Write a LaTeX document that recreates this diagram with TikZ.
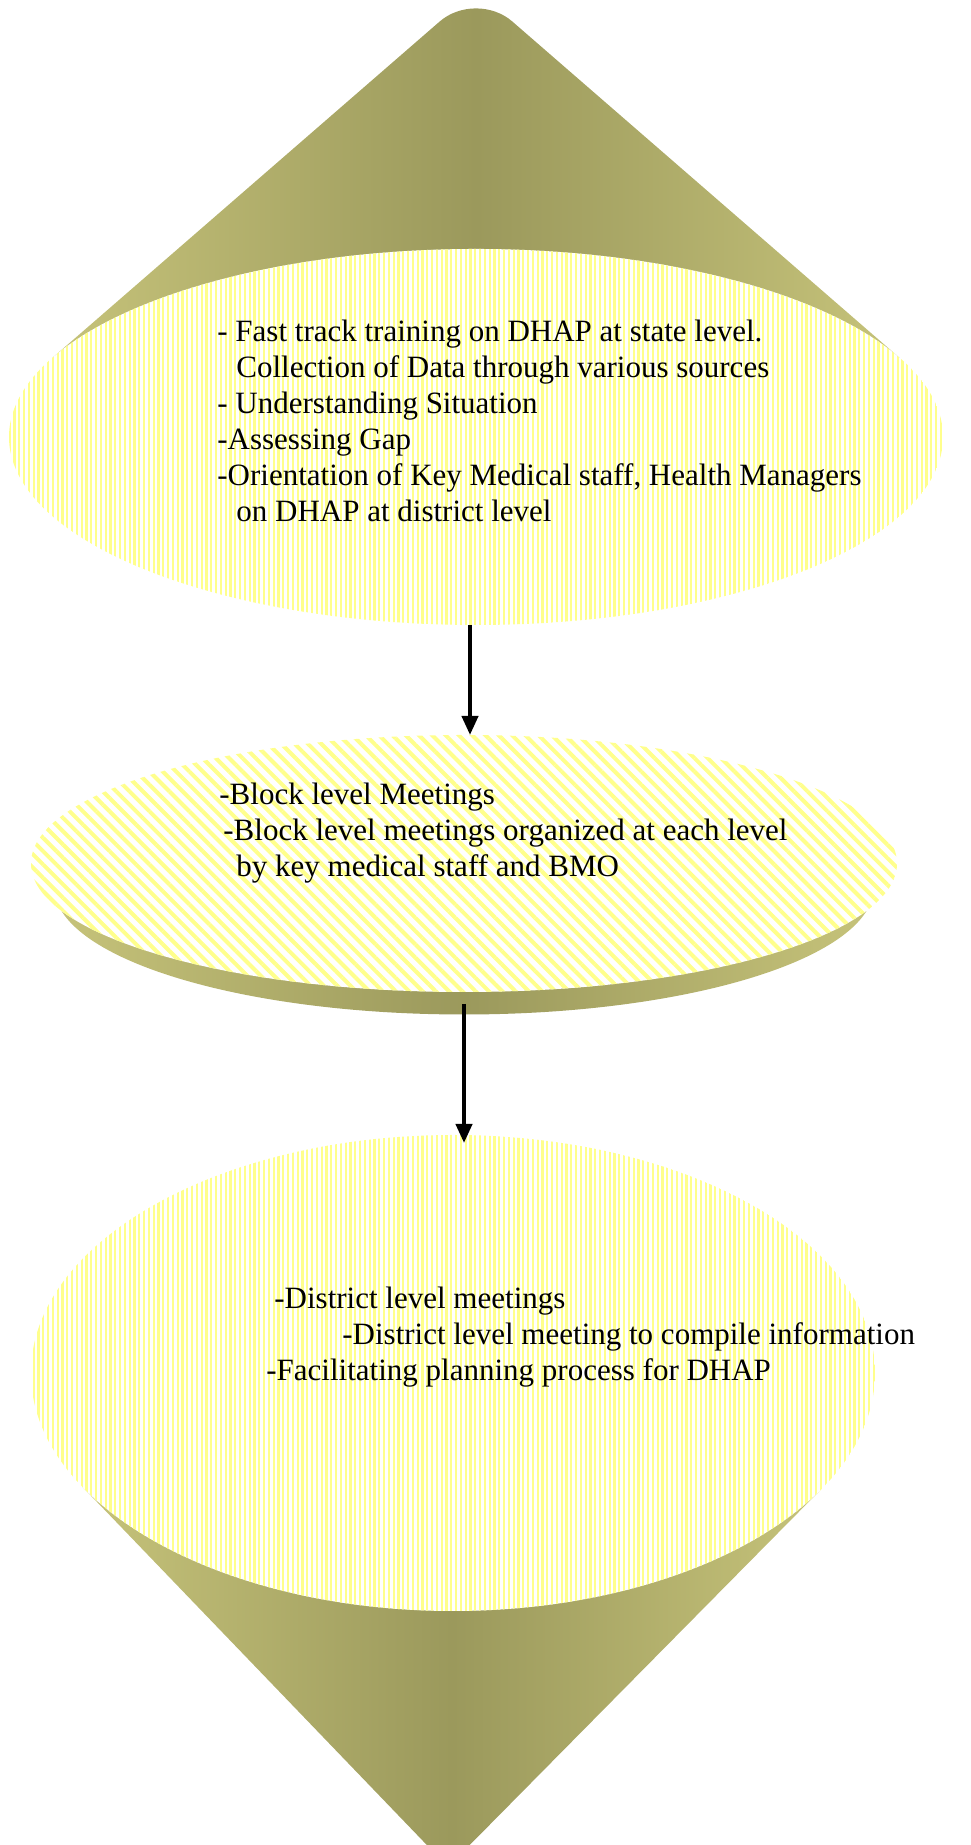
\documentclass[tikz,border=0pt]{standalone}
\usepackage{fontspec}
\setmainfont{Liberation Serif}
\usepackage{tikz}
\usetikzlibrary{shapes.geometric}
\usetikzlibrary{patterns.meta}
\usetikzlibrary{arrows.meta}
\usetikzlibrary{calc}

\definecolor{coneLight}{RGB}{198,195,122}
\definecolor{coneDark}{RGB}{155,153,92}
\definecolor{stripeYellow}{RGB}{255,255,140}

\begin{document}
\begin{tikzpicture}[x=0.5pt, y=0.5pt,
  cone/.style={left color=coneLight, right color=coneLight, middle color=coneDark},
  face/.style={ellipse, draw=none, inner sep=0pt, outer sep=0pt, fill=white},
  vstripes/.style={postaction={pattern={Lines[angle=90,distance=2.4pt,line width=1.1pt]}, pattern color=stripeYellow}},
  dstripes/.style={postaction={pattern={Lines[angle=-45,distance=4.7pt,line width=2pt]}, pattern color=stripeYellow}},
  txt/.style={anchor=base west, inner sep=0pt, font=\fontsize{15.5}{18}\selectfont},
  flowarrow/.style={line width=2pt, -{Triangle[width=8pt,length=9.5pt]}}]
\useasboundingbox (0,0) rectangle (970,1845);
\clip (0,0) rectangle (970,1845);

\coordinate (stateC) at (476,1408);
\coordinate (blockC) at (464,981.5);
\coordinate (districtC) at (453,472);

% top cone and state level face
\path[cone, rounded corners=24pt] ($(stateC)+(155.13:467 and 188)$) -- (476,1855) -- ($(stateC)+(24.87:467 and 188)$);
\node[face, vstripes, minimum width=467pt, minimum height=188pt] (state) at (stateC) {};

% block level disc
\path[cone] ($(blockC)+(0,-23)$) ellipse [x radius=410, y radius=128];
\node[face, dstripes, minimum width=433pt, minimum height=128.5pt] (block) at (blockC) {};

% bottom cone and district level face
\path[cone] ($(districtC)+(-151.5:422 and 238)$) -- (448,-22) -- ($(districtC)+(-29.1:422 and 238)$);
\node[face, vstripes, minimum width=422pt, minimum height=238pt] (district) at (districtC) {};

\node[txt] (stateText) at (217,1503) {\begin{tabular}[t]{@{}l@{}}
- Fast track training on DHAP at state level.\\
\hspace{9.5pt}Collection of Data through various sources\\
- Understanding Situation\\
-Assessing Gap\\
-Orientation of Key Medical staff, Health Managers\\
\hspace{9.5pt}on DHAP at district level
\end{tabular}};

\node[txt] (blockText) at (219,1040) {\begin{tabular}[t]{@{}l@{}}
-Block level Meetings\\
\hspace{2pt}-Block level meetings organized at each level\\
\hspace{8.5pt}by key medical staff and BMO
\end{tabular}};

\node[txt] (districtText) at (266,536) {\begin{tabular}[t]{@{}l@{}}
\hspace{4pt}-District level meetings\\
\hspace{38pt}-District level meeting to compile information\\
-Facilitating planning process for DHAP
\end{tabular}};

\draw[flowarrow] ([xshift=-3pt]state.south) -- ([xshift=3pt]block.north);
\draw[flowarrow] ([yshift=-6pt]block.south) -- ([xshift=5.5pt,yshift=-4pt]district.north);
\end{tikzpicture}
\end{document}
